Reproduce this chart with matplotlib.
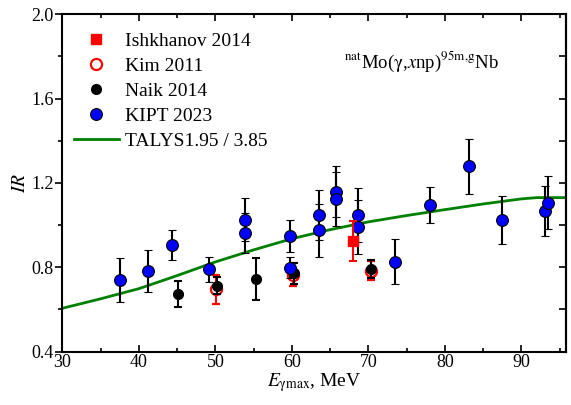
import matplotlib
matplotlib.use("Agg")
import matplotlib.pyplot as plt
from matplotlib.lines import Line2D
from matplotlib.ticker import MultipleLocator

plt.rcParams['font.family'] = ['Liberation Serif', 'DejaVu Serif']
plt.rcParams['mathtext.fontset'] = 'stix'

# Ishkhanov 2014
ish_x = [68.0]
ish_y = [0.924]
ish_e = [0.094]

# Kim 2011
kim_x = [50.1, 60.2, 70.3]
kim_y = [0.695, 0.765, 0.784]
kim_e = [0.070, 0.053, 0.044]

# Naik 2014
naik_x = [45.1, 50.2, 55.3, 60.3, 70.3]
naik_y = [0.673, 0.713, 0.744, 0.771, 0.792]
naik_e = [0.060, 0.040, 0.099, 0.050, 0.042]

# KIPT 2023
kipt_x = [37.5, 41.2, 44.3, 49.2, 53.9, 53.9, 59.8, 59.8, 63.6, 63.6,
          65.8, 65.8, 68.6, 68.6, 73.5, 78.0, 83.1, 87.4, 93.1, 93.5]
kipt_y = [0.738, 0.781, 0.905, 0.790, 1.025, 0.964, 0.948, 0.798, 1.048, 0.975,
          1.159, 1.124, 1.048, 0.990, 0.827, 1.095, 1.278, 1.024, 1.067, 1.106]
kipt_e = [0.105, 0.100, 0.072, 0.058, 0.103, 0.095, 0.077, 0.050, 0.120, 0.127,
          0.120, 0.128, 0.129, 0.128, 0.107, 0.087, 0.129, 0.116, 0.117, 0.127]

# TALYS1.95 / 3.85
talys_x = [30, 35, 40, 45, 50, 55, 60, 65, 70, 75, 80, 85, 90, 92, 96]
talys_y = [0.605, 0.650, 0.698, 0.760, 0.825, 0.882, 0.935, 0.978, 1.015,
           1.045, 1.073, 1.100, 1.124, 1.130, 1.130]

fig = plt.figure(figsize=(5.71, 4.05), dpi=100)
ax = fig.add_axes([0.109, 0.132, 0.882, 0.833])

ax.plot(talys_x, talys_y, color='#008000', lw=2, zorder=2)

eb = dict(elinewidth=1.5, capsize=3, capthick=1.5)
ax.errorbar(kim_x, kim_y, yerr=kim_e, fmt='o', ms=8, mfc='white', mec='red', mew=1.6,
            ecolor='red', zorder=3, **eb)
ax.errorbar(naik_x, naik_y, yerr=naik_e, fmt='o', ms=7, mfc='black', mec='black',
            ecolor='black', zorder=4, **eb)
ax.errorbar(kipt_x, kipt_y, yerr=kipt_e, fmt='o', ms=8.5, mfc='blue', mec='black', mew=0.8,
            ecolor='black', zorder=5, **eb)
ax.errorbar(ish_x, ish_y, yerr=ish_e, fmt='s', ms=7.5, mfc='red', mec='red',
            ecolor='red', zorder=6, **eb)

ax.set_xlim(30, 95.8)
ax.set_ylim(0.4, 2.0)
ax.xaxis.set_major_locator(MultipleLocator(10))
ax.xaxis.set_minor_locator(MultipleLocator(5))
ax.yaxis.set_major_locator(MultipleLocator(0.4))
ax.yaxis.set_minor_locator(MultipleLocator(0.2))
ax.yaxis.set_major_formatter(plt.FuncFormatter(lambda v, p: f'{v:.1f}'))

ax.tick_params(axis='x', which='both', direction='in', top=True, labelsize=13, pad=2)
ax.tick_params(axis='y', which='both', direction='out', labelsize=13, pad=1)
ax.tick_params(which='major', length=5, width=1.2)
ax.tick_params(which='minor', length=3, width=1.2)
# right side ticks drawn inside
sec = ax.secondary_yaxis('right')
sec.yaxis.set_major_locator(MultipleLocator(0.2))
sec.tick_params(direction='in', length=5, width=1.2, labelright=False)
sec.spines['right'].set_linewidth(1.5)
for s in ax.spines.values():
    s.set_linewidth(1.5)

ax.set_xlabel(r'$\mathit{E}_{\mathrm{\gamma max}}$, MeV', fontsize=14, labelpad=0)
ax.set_ylabel(r'$\mathit{IR}$', fontsize=14, labelpad=2)

ax.text(0.56, 0.84, r'$^{\mathrm{nat}}$Mo($\mathrm{\gamma}$,$\mathit{x}$np)$^{\mathrm{95m{,}g}}$Nb',
        transform=ax.transAxes, fontsize=13.5)

handles = [
    Line2D([], [], ls='none', marker='s', ms=7.5, mfc='red', mec='red'),
    Line2D([], [], ls='none', marker='o', ms=8, mfc='white', mec='red', mew=1.6),
    Line2D([], [], ls='none', marker='o', ms=7, mfc='black', mec='black'),
    Line2D([], [], ls='none', marker='o', ms=8.5, mfc='blue', mec='black', mew=0.8),
    Line2D([], [], color='#008000', lw=2),
]
labels = ['Ishkhanov 2014', 'Kim 2011', 'Naik 2014', 'KIPT 2023', 'TALYS1.95 / 3.85']
ax.legend(handles, labels, loc='upper left', frameon=False, fontsize=14,
          handlelength=2.3, handletextpad=0.3, labelspacing=0.38, borderaxespad=0.0,
          bbox_to_anchor=(0.008, 0.97))

fig.savefig('out.png', dpi=100)
